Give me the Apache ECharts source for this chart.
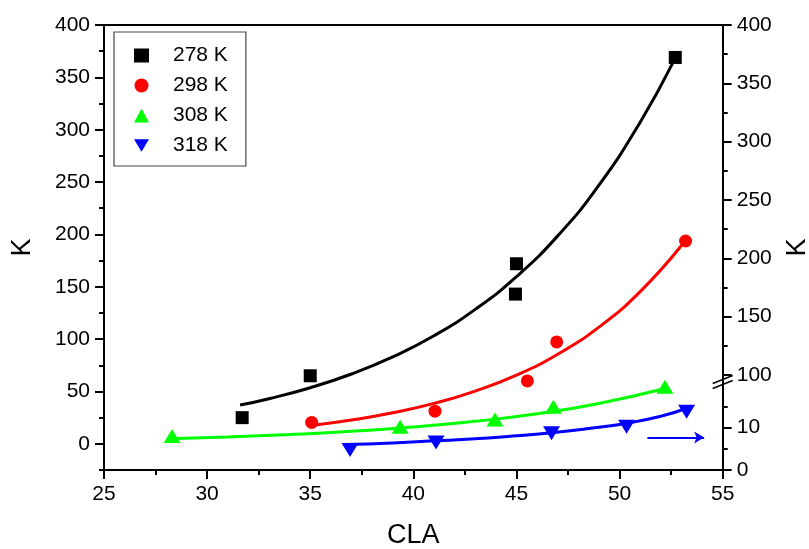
<!DOCTYPE html>
<html><head><meta charset="utf-8">
<script src="https://cdn.jsdelivr.net/npm/echarts@6/dist/echarts.min.js"></script>
<style>html,body{margin:0;padding:0;background:#fff}#c{width:809px;height:549px}</style>
</head><body><div id="c"></div>
<script>
// ---- measured points ----
const cla278 = [31.7, 35.0, 45.0, 44.95, 52.7];
const k278 = [25, 65, 172, 143, 369];
const cla298 = [35.07, 41.05, 45.53, 46.95, 53.2];
const k298 = [20.4, 31.2, 60.1, 97.3, 193.7];
const cla308 = [28.3, 39.36, 43.96, 46.79, 52.2];
const k308 = [7.5, 16.2, 23.3, 35.3, 54.4];
const cla318 = [36.93, 41.1, 46.7, 50.34, 53.25];
const k318 = [4.7, 6.5, 8.7, 10.2, 13.8]; // plotted on right (broken) axis

// ---- fitted curves ----
const fit278X = [31.6, 33, 35, 37, 39, 41, 43, 45, 47, 49, 51, 52.6];
const fit278Y = [37, 43.1, 53.6, 66.7, 83, 103.2, 128.4, 159.7, 198.6, 247, 307.2, 364.5];
const fit298X = [35.15, 37, 39, 41, 43, 45, 47, 49, 51, 53.01];
const fit298Y = [17.8, 22.7, 29.6, 38.6, 50.4, 65.6, 85.6, 111.5, 145.4, 189.6];
const fit308X = [28.5, 31, 34, 37, 40, 43, 46, 49, 52.2];
const fit308Y = [5.2, 6.6, 8.9, 11.9, 16.0, 21.5, 28.8, 38.6, 52.8];
const fit318X = [36.6, 39, 41.1, 43, 45, 46.7, 48.5, 50.3, 52, 53.25];
const fit318Y = [6.0, 6.4, 6.9, 7.4, 8.1, 8.8, 9.8, 11.0, 12.7, 14.6];

// ---- ticks ----
const leftTicks = [0, 50, 100, 150, 200, 250, 300, 350, 400];
const leftMinor = [-25, 25, 75, 125, 175, 225, 275, 325, 375];
const rightTicks = [0, 10, 100, 150, 200, 250, 300, 350, 400];
const rightMinor = [5, 15, 125, 175, 225, 275, 325, 375];
const arrowX = [51.35, 54.1];
const arrowK = 7.7;
const seriesNames = ['278 K', '298 K', '308 K', '318 K'];
const colors = ['#000000', '#ff0000', '#00ff00', '#0000ff'];

// broken right axis: lower segment 0..20, upper segment 95..400
function toRight(v) { return v <= 20 ? v * 4.23 : 95 + (v - 100) * (350 / 300); }
const RIGHT_MAX = toRight(400);
const BREAK_AT = 88;

function pairs(xs, ys, f) { return xs.map((x, i) => [x, f ? f(ys[i]) : ys[i]]); }

const FONT = 'Liberation Sans, Arial, sans-serif';
const TICK_FS = 21;
const axisLineStyle = { color: '#000', width: 2 };
const DOWN_TRI = 'path://M0,0 L17,0 L8.5,14 Z';

const chart = echarts.init(document.getElementById('c'), null, { renderer: 'canvas' });
const fitLine = (name, xs, ys, color, extra) => Object.assign({
  name, type: 'line', smooth: true, showSymbol: false,
  data: pairs(xs, ys), lineStyle: { color, width: 3 }, z: 2
}, extra || {});

const option = {
  backgroundColor: '#fff',
  animation: false,
  textStyle: { fontFamily: FONT, color: '#000' },
  grid: { left: 104, top: 25, width: 618.7, height: 445, outerBoundsMode: 'none', containLabel: false },
  legend: {
    orient: 'vertical', left: 114, top: 32,
    data: [
      { name: seriesNames[0] },
      { name: seriesNames[1] },
      { name: seriesNames[2] },
      { name: seriesNames[3], icon: DOWN_TRI }
    ],
    itemWidth: 15, itemHeight: 14, itemGap: 9,
    symbolKeepAspect: true,
    padding: [13, 18, 10, 20],
    borderColor: '#444', borderWidth: 1.2,
    textStyle: { fontSize: 21, color: '#000', fontFamily: FONT, padding: [0, 0, 0, 19] }
  },
  xAxis: [
    {
      type: 'value', min: 25, max: 55, interval: 5, position: 'bottom',
      name: 'CLA', nameLocation: 'middle', nameGap: 52,
      nameTextStyle: { fontSize: 27, color: '#000', fontFamily: FONT },
      axisLine: { show: true, onZero: false, lineStyle: axisLineStyle },
      axisTick: { inside: false, length: 9, lineStyle: { color: '#000', width: 2 } },
      minorTick: { show: true, splitNumber: 2, length: 5, lineStyle: { color: '#000', width: 2 } },
      splitLine: { show: false },
      axisLabel: { fontSize: TICK_FS, color: '#000', margin: 14, fontFamily: FONT }
    },
    {
      type: 'value', min: 25, max: 55, position: 'top',
      axisLine: { show: true, onZero: false, lineStyle: axisLineStyle },
      axisTick: { show: false }, axisLabel: { show: false }, splitLine: { show: false }
    }
  ],
  yAxis: [
    {
      type: 'value', min: -25, max: 400, position: 'left',
      name: 'K', nameLocation: 'middle', nameGap: 68, nameRotate: 90,
      nameTextStyle: { fontSize: 27, color: '#000', fontFamily: FONT },
      axisLine: { show: true, onZero: false, lineStyle: axisLineStyle },
      axisTick: { customValues: leftTicks, length: 9, lineStyle: { color: '#000', width: 2 } },
      axisLabel: { customValues: leftTicks, fontSize: TICK_FS, color: '#000', margin: 14, fontFamily: FONT },
      splitLine: { show: false }
    },
    {
      type: 'value', min: 0, max: RIGHT_MAX, position: 'right',
      name: 'K', nameLocation: 'middle', nameGap: 61, nameRotate: 90,
      nameTextStyle: { fontSize: 27, color: '#000', fontFamily: FONT },
      axisLine: { show: true, onZero: false, lineStyle: axisLineStyle },
      axisTick: { customValues: rightTicks.map(toRight), length: 9, lineStyle: { color: '#000', width: 2 } },
      axisLabel: {
        customValues: rightTicks.map(toRight), fontSize: TICK_FS, color: '#000', margin: 14, fontFamily: FONT,
        showMaxLabel: true, showMinLabel: true,
        formatter: function (val) {
          const t = rightTicks.find(r => Math.abs(toRight(r) - val) < 0.01);
          return t === undefined ? '' : String(t);
        }
      },
      splitLine: { show: false }
    },
    {
      type: 'value', min: -25, max: 400, position: 'left', offset: 0,
      axisLine: { show: false },
      axisTick: { customValues: leftMinor, length: 5, lineStyle: { color: '#000', width: 2 } },
      axisLabel: { show: false }, splitLine: { show: false }
    },
    {
      type: 'value', min: 0, max: RIGHT_MAX, position: 'right', offset: 0,
      axisLine: { show: false },
      axisTick: { customValues: rightMinor.map(toRight), length: 5, lineStyle: { color: '#000', width: 2 } },
      axisLabel: { show: false }, splitLine: { show: false }
    }
  ],
  series: [
    fitLine('278 K fit', fit278X, fit278Y, colors[0]),
    fitLine('298 K fit', fit298X, fit298Y, colors[1]),
    fitLine('308 K fit', fit308X, fit308Y, colors[2]),
    fitLine('318 K fit', fit318X, fit318Y, colors[3], {
      yAxisIndex: 1,
      data: pairs(fit318X, fit318Y, toRight),
      markLine: {
        silent: true, symbol: ['none', 'arrow'], symbolSize: [9, 10],
        lineStyle: { color: colors[3], width: 2, type: 'solid' }, label: { show: false },
        data: [[{ coord: [arrowX[0], toRight(arrowK)] }, { coord: [arrowX[1], toRight(arrowK)] }]]
      }
    }),
    { name: seriesNames[0], type: 'scatter', symbol: 'rect', symbolSize: 13,
      itemStyle: { color: colors[0], opacity: 1 }, data: pairs(cla278, k278), z: 5 },
    { name: seriesNames[1], type: 'scatter', symbol: 'circle', symbolSize: 13,
      itemStyle: { color: colors[1], opacity: 1 }, data: pairs(cla298, k298), z: 5 },
    { name: seriesNames[2], type: 'scatter', symbol: 'triangle', symbolSize: [17, 14],
      itemStyle: { color: colors[2], opacity: 1 }, data: pairs(cla308, k308), z: 5 },
    { name: seriesNames[3], type: 'scatter', symbol: DOWN_TRI, symbolSize: [17, 14],
      yAxisIndex: 1, itemStyle: { color: colors[3], opacity: 1 }, data: pairs(cla318, k318, toRight), z: 5 }
  ]
};
chart.setOption(option);

// axis break marks on the right axis
const bx = chart.convertToPixel({ xAxisIndex: 0 }, 55);
const by = chart.convertToPixel({ yAxisIndex: 1 }, BREAK_AT);
chart.setOption({
  graphic: [
    { type: 'line', shape: { x1: bx - 10, y1: by + 1.5, x2: bx + 10, y2: by - 6.5 }, style: { stroke: '#000', lineWidth: 1.5 }, z: 10 },
    { type: 'line', shape: { x1: bx - 10, y1: by + 6.5, x2: bx + 10, y2: by - 1.5 }, style: { stroke: '#000', lineWidth: 1.5 }, z: 10 }
  ]
});
</script>
</body></html>
